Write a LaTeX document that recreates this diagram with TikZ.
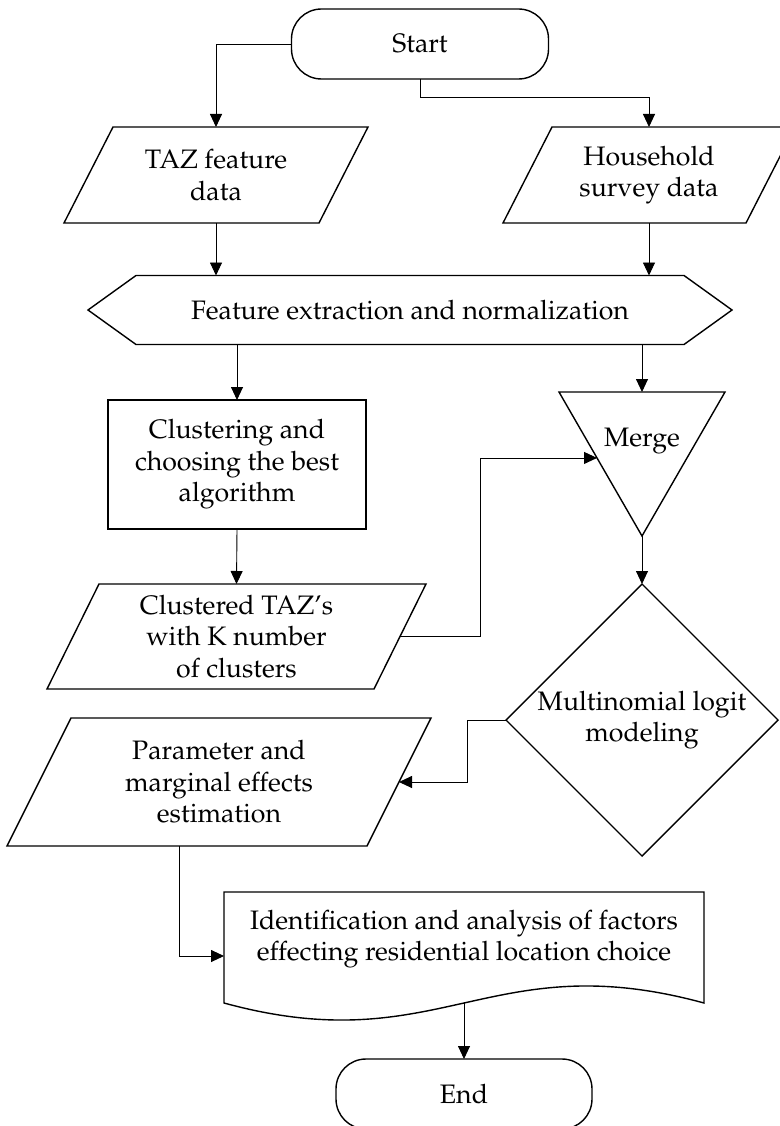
\documentclass[tikz,border=0pt]{standalone}
\usepackage[T1]{fontenc}
\renewcommand{\rmdefault}{ppl}
\usetikzlibrary{arrows.meta,calc}
\begin{document}
\begin{tikzpicture}[x=1pt,y=-1pt,
  box/.style={inner sep=0pt, outer sep=0pt, align=center, font=\fontsize{26.7}{31.5}\selectfont},
  outline/.style={draw=black, line width=1.4pt, line join=miter},
  conn/.style={draw=black, line width=0.9pt},
  arr/.style={conn, -{Triangle[length=13pt,width=12pt]}}]
\fill[white] (0,0) rectangle (779,1126);
\useasboundingbox (0,0) rectangle (779,1126);

% nodes
\node[box, minimum width=257, minimum height=70] (start) at (420,44) {Start};
\draw[outline, rounded corners=30pt] (start.north west) rectangle (start.south east);

\node[box, minimum width=304, minimum height=96] (taz) at (216,175) {TAZ feature\\data};
\draw[outline] ([xshift=49pt]taz.north west) -- (taz.north east) -- ([xshift=-49pt]taz.south east) -- (taz.south west) -- cycle;

\node[box, minimum width=292, minimum height=96] (hh) at (649,175) {Household\\survey data};
\draw[outline] ([xshift=49pt]hh.north west) -- (hh.north east) -- ([xshift=-49pt]hh.south east) -- (hh.south west) -- cycle;

\node[box, minimum width=644, minimum height=69] (hex) at (410,310) {Feature extraction and normalization};
\draw[outline] ([xshift=48pt]hex.north west) -- ([xshift=-48pt]hex.north east) -- (hex.east) -- ([xshift=-48pt]hex.south east) -- ([xshift=48pt]hex.south west) -- (hex.west) -- cycle;

\node[box, outline, minimum width=258, minimum height=129] (clus) at (237,464.5) {Clustering and\\choosing the best\\algorithm};

\node[box, minimum width=166, minimum height=144] (merge) at (642,464) {};
\draw[outline] (merge.north west) -- (merge.north east) -- (merge.south) -- cycle;
\node[box] (mergelbl) at (642,441) {Merge};

\node[box, minimum width=379, minimum height=105] (ctaz) at (236.5,636.5) {Clustered TAZ's\\with K number\\of clusters};
\draw[outline] ([xshift=52pt]ctaz.north west) -- (ctaz.north east) -- ([xshift=-52pt]ctaz.south east) -- (ctaz.south west) -- cycle;

\node[box, minimum width=272, minimum height=272] (mnl) at (642,720) {Multinomial logit\\modeling};
\draw[outline] (mnl.north) -- (mnl.east) -- (mnl.south) -- (mnl.west) -- cycle;

\node[box, minimum width=424, minimum height=128] (param) at (219,782) {Parameter and\\marginal effects\\estimation};
\draw[outline] ([xshift=64pt]param.north west) -- (param.north east) -- ([xshift=-64pt]param.south east) -- (param.south west) -- cycle;

\node[box, minimum width=480, minimum height=94] (doc) at (464,939) {Identification and analysis of factors\\effecting residential location choice};
\draw[outline] ([yshift=-17pt]doc.south west) -- (doc.north west) -- (doc.north east) -- ([yshift=-17pt]doc.south east)
  .. controls +(-216,-59) and +(216,59) .. ([yshift=-17pt]doc.south west) -- cycle;

\node[box, minimum width=256, minimum height=70] (stop) at (464,1094) {End};
\draw[outline, rounded corners=30pt] (stop.north west) rectangle (stop.south east);

% connectors
\draw[arr] (start.west) -| (taz.north);
\draw[arr] (start.south) -- ++(0,18) -| (hh.north);
\draw[arr] (taz.south) -- (taz.south |- hex.north);
\draw[arr] (hh.south) -- (hh.south |- hex.north);
\draw[arr] (clus.north |- hex.south) -- (clus.north);
\draw[arr] (merge.north |- hex.south) -- (merge.north);
\draw[arr] (clus.south) -- (ctaz.north);
\draw[arr] (merge.south) -- (mnl.north);
\coordinate (mergein) at ($(merge.north west)!0.458!(merge.south)$);
\draw[arr] ([xshift=-26pt]ctaz.east) -| ([xshift=-117pt]mergein) -- (mergein);
\draw[arr] (mnl.west) -- ++(-39,0) |- ([xshift=-32pt]param.east);
\draw[arr] ([xshift=-40pt]param.south) |- ([yshift=-17pt]doc.west);
\draw[arr] ([yshift=-17pt]doc.south) -- (stop.north);
\end{tikzpicture}
\end{document}
